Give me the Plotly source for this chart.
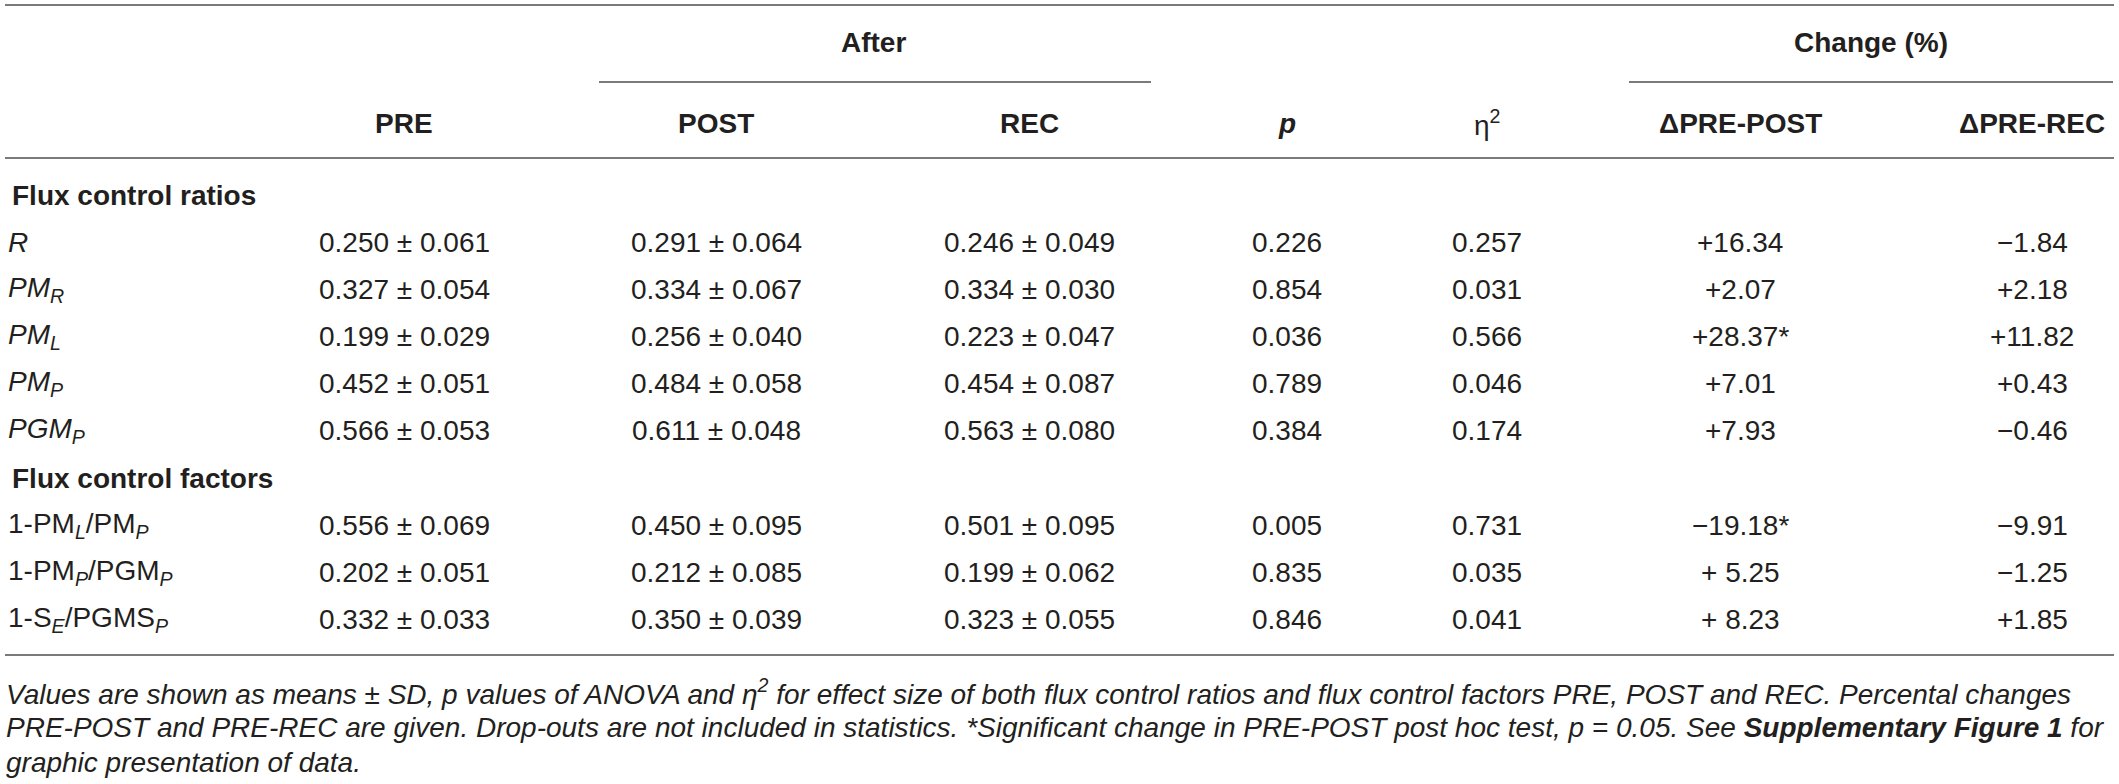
import plotly.graph_objects as go

W, H = 2119, 784

# ---- data ----
section_titles = ["Flux control ratios", "Flux control factors"]
row_labels = [
    "<i>R</i>",
    "<i>PM<sub>R</sub></i>",
    "<i>PM<sub>L</sub></i>",
    "<i>PM<sub>P</sub></i>",
    "<i>PGM<sub>P</sub></i>",
    "1-PM<sub><i>L</i></sub>/PM<sub><i>P</i></sub>",
    "1-PM<sub><i>P</i></sub>/PGM<sub><i>P</i></sub>",
    "1-S<sub><i>E</i></sub>/PGMS<sub><i>P</i></sub>",
]
pre = ["0.250 ± 0.061", "0.327 ± 0.054", "0.199 ± 0.029", "0.452 ± 0.051", "0.566 ± 0.053",
       "0.556 ± 0.069", "0.202 ± 0.051", "0.332 ± 0.033"]
post = ["0.291 ± 0.064", "0.334 ± 0.067", "0.256 ± 0.040", "0.484 ± 0.058", "0.611 ± 0.048",
        "0.450 ± 0.095", "0.212 ± 0.085", "0.350 ± 0.039"]
rec = ["0.246 ± 0.049", "0.334 ± 0.030", "0.223 ± 0.047", "0.454 ± 0.087", "0.563 ± 0.080",
       "0.501 ± 0.095", "0.199 ± 0.062", "0.323 ± 0.055"]
p_vals = ["0.226", "0.854", "0.036", "0.789", "0.384", "0.005", "0.835", "0.846"]
eta2 = ["0.257", "0.031", "0.566", "0.046", "0.174", "0.731", "0.035", "0.041"]
d_pre_post = ["+16.34", "+2.07", "+28.37*", "+7.01", "+7.93", "−19.18*", "+ 5.25", "+ 8.23"]
d_pre_rec = ["−1.84", "+2.18", "+11.82", "+0.43", "−0.46", "−9.91", "−1.25", "+1.85"]

col_headers = ["PRE", "POST", "REC", "<i>p</i>", "η<sup>2</sup>", "ΔPRE-POST", "ΔPRE-REC"]
group_headers = ["After", "Change (%)"]

footnote_lines = [
    "<i>Values are shown as means ± SD, p values of ANOVA and η<sup>2</sup> for effect size of both flux control ratios and flux control factors PRE, POST and REC. Percental changes</i>",
    "<i>PRE-POST and PRE-REC are given. Drop-outs are not included in statistics. *Significant change in PRE-POST post hoc test, p = 0.05. See <b>Supplementary Figure 1</b> for</i>",
    "<i>graphic presentation of data.</i>",
]

# ---- layout geometry ----
col_x = [404, 716, 1029, 1287, 1487, 1740, 2032]
group_x = [873, 1871]
group_line = [(599, 1151), (1629, 2113)]
y_group, y_group_line, y_head = 42, 82, 123
y_top, y_head_line, y_bottom = 5, 158, 655
section_y = [195, 478]
row_y = [242, 289, 336, 383, 430, 525, 572, 619]
foot_y = [692, 727, 762]

TXT = "#231f20"
LINE = "#7a7a7a"
FONT = "Liberation Sans, Arial, Helvetica, sans-serif"
FS = 28
FS_FOOT = 28

fig = go.Figure()
fig.add_trace(go.Scatter(x=[0, W], y=[0, H], mode="markers",
                         marker=dict(opacity=0), hoverinfo="skip", showlegend=False))

ann = []

def add(x, y, text, size=FS, xanchor="center", bold=False):
    t = f"<b>{text}</b>" if bold else text
    ann.append(dict(x=x, y=y, xref="x", yref="y", text=t, showarrow=False,
                    xanchor=xanchor, yanchor="middle",
                    font=dict(family=FONT, size=size, color=TXT)))

for gx, gt in zip(group_x, group_headers):
    add(gx, y_group, gt, bold=True)
for cx, ct in zip(col_x, col_headers):
    if ct.startswith("η"):
        add(cx, y_head, ct)
    else:
        add(cx, y_head, ct, bold=True)

for sy, st in zip(section_y, section_titles):
    add(10, sy, st, xanchor="left", bold=True)

columns = [pre, post, rec, p_vals, eta2, d_pre_post, d_pre_rec]
for i, ry in enumerate(row_y):
    add(6, ry, row_labels[i], xanchor="left")
    for cx, col in zip(col_x, columns):
        add(cx, ry, col[i])

for fy, ft in zip(foot_y, footnote_lines):
    add(4, fy, ft, size=FS_FOOT, xanchor="left")

shapes = []
def hline(x0, x1, y, w=2):
    shapes.append(dict(type="line", xref="x", yref="y", x0=x0, x1=x1, y0=y, y1=y,
                       line=dict(color=LINE, width=w)))

hline(5, 2114, y_top)
for x0, x1 in group_line:
    hline(x0, x1, y_group_line)
hline(5, 2114, y_head_line)
hline(5, 2114, y_bottom)

fig.update_layout(
    width=W, height=H,
    margin=dict(l=0, r=0, t=0, b=0),
    paper_bgcolor="white", plot_bgcolor="white",
    xaxis=dict(range=[0, W], visible=False, fixedrange=True),
    yaxis=dict(range=[H, 0], visible=False, fixedrange=True),
    annotations=ann, shapes=shapes, showlegend=False,
)
fig.write_html(
    "out.html",
    config={"displayModeBar": False},
    post_script="document.body.style.margin='0';document.body.style.overflow='hidden';",
)
